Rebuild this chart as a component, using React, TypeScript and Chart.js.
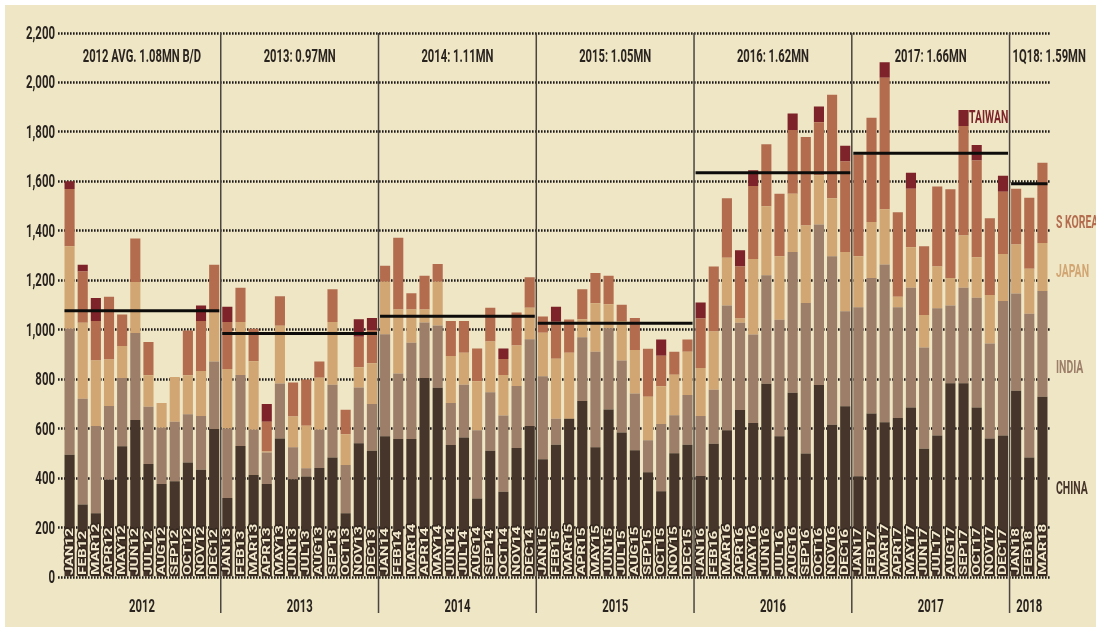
import React, { useEffect, useRef } from "react";
import { Chart, registerables } from "chart.js";

Chart.register(...registerables);

const MONTH_NAMES = ["JAN", "FEB", "MAR", "APR", "MAY", "JUN", "JUL", "AUG", "SEP", "OCT", "NOV", "DEC"];
const YEARS = ["2012", "2013", "2014", "2015", "2016", "2017", "2018"];
const MONTHS_PER_YEAR = [12, 12, 12, 12, 12, 12, 3];
const YEAR_NOTES = ["2012 AVG. 1.08MN B/D", "2013: 0.97MN", "2014: 1.11MN", "2015: 1.05MN", "2016: 1.62MN", "2017: 1.66MN", "1Q18: 1.59MN"];
const YEAR_AVERAGES = [1075, 983, 1052, 1024, 1633, 1712, 1588];
const Y_TICKS = [0, 200, 400, 600, 800, 1000, 1200, 1400, 1600, 1800, 2000, 2200];

const CATEGORIES: string[] = [];
YEARS.forEach((y, yi) => {
  for (let m = 0; m < MONTHS_PER_YEAR[yi]; m++) CATEGORIES.push(MONTH_NAMES[m] + y.slice(2));
});

const CHINA = [
  492, 291, 256, 391, 527, 633, 455, 374, 385, 461, 432, 597,
  317, 528, 410, 374, 558, 393, 404, 439, 481, 256, 539, 509,
  567, 556, 556, 803, 763, 532, 562, 315, 509, 343, 520, 609,
  474, 533, 638, 710, 523, 675, 582, 511, 422, 345, 498, 533,
  406, 537, 591, 673, 621, 779, 567, 743, 497, 774, 614, 689,
  405, 659, 624, 641, 683, 517, 570, 782, 782, 683, 558, 570,
  751, 481, 727,
];
const INDIA = [
  510, 428, 353, 299, 276, 352, 231, 228, 241, 195, 217, 272,
  282, 287, 183, 127, 223, 130, 34, 154, 294, 195, 225, 189,
  413, 265, 389, 224, 252, 170, 213, 276, 236, 308, 250, 350,
  336, 105, 0, 258, 386, 329, 292, 229, 129, 272, 154, 201,
  243, 218, 505, 353, 358, 439, 471, 569, 609, 650, 681, 384,
  684, 548, 638, 448, 485, 409, 515, 314, 386, 444, 384, 544,
  393, 582, 428,
];
const JAPAN = [
  334, 307, 265, 188, 129, 206, 128, 100, 181, 158, 182, 198,
  240, 214, 277, 5, 233, 124, 172, 211, 254, 124, 82, 164,
  212, 259, 135, 53, 177, 190, 130, 199, 205, 164, 164, 128,
  176, 243, 267, 72, 196, 97, 159, 176, 176, 152, 164, 175,
  194, 236, 193, 17, 305, 279, 257, 236, 313, 199, 235, 239,
  206, 227, 223, 42, 164, 132, 169, 111, 211, 164, 196, 190,
  199, 182, 194,
];
const S_KOREA = [
  231, 207, 159, 253, 128, 176, 134, 0, 0, 181, 202, 194,
  190, 139, 132, 120, 119, 138, 187, 65, 133, 99, 124, 135,
  65, 290, 65, 136, 72, 141, 128, 132, 137, 65, 134, 123,
  65, 149, 134, 122, 122, 115, 66, 129, 194, 124, 93, 49,
  200, 263, 241, 211, 295, 251, 253, 258, 358, 214, 418, 366,
  412, 421, 532, 342, 236, 278, 323, 359, 443, 391, 311, 252,
  225, 287, 324,
];
const TAIWAN = [
  31, 28, 93, 0, 0, 0, 0, 0, 0, 0, 63, 0,
  62, 0, 0, 72, 0, 0, 0, 0, 0, 0, 70, 48,
  0, 0, 0, 0, 0, 0, 0, 0, 0, 42, 0, 0,
  0, 61, 0, 0, 0, 0, 0, 0, 0, 65, 0, 0,
  65, 0, 0, 65, 64, 0, 0, 66, 0, 64, 0, 64,
  0, 0, 63, 0, 65, 0, 0, 0, 65, 63, 0, 65,
  0, 0, 0,
];

const COLORS = {
  china: "#46352a",
  india: "#9c7e69",
  japan: "#d2a673",
  korea: "#b46c4f",
  taiwan: "#7e2329",
  bg: "#efe6c5",
  text: "#2a2420",
};

const FAMILY = "Roboto, 'DejaVu Sans', sans-serif";

function condText(ctx: CanvasRenderingContext2D, text: string, x: number, y: number, size: number, sx: number, align: CanvasTextAlign, color: string, weight = "bold") {
  ctx.save();
  ctx.font = `${weight} ${size}px ${FAMILY}`;
  ctx.fillStyle = color;
  ctx.textAlign = align;
  ctx.textBaseline = "alphabetic";
  ctx.translate(x, y);
  ctx.scale(sx, 1);
  ctx.fillText(text, 0, 0);
  ctx.restore();
}

const decorPlugin = {
  id: "decor",
  beforeDraw(chart: any) {
    const ctx = chart.ctx as CanvasRenderingContext2D;
    ctx.save();
    ctx.fillStyle = "#ffffff";
    ctx.fillRect(0, 0, chart.width, chart.height);
    ctx.fillStyle = COLORS.bg;
    ctx.fillRect(5, 5, chart.width - 5, chart.height - 5);
    ctx.restore();
  },
  beforeDatasetsDraw(chart: any) {
    const ctx = chart.ctx as CanvasRenderingContext2D;
    const ys = chart.scales.y;
    ctx.save();
    ctx.strokeStyle = "#1c1a18";
    ctx.lineWidth = 2.4;
    ctx.setLineDash([1.6, 1.4]);
    Y_TICKS.forEach((v) => {
      const y = Math.round(ys.getPixelForValue(v)) + 0.5;
      ctx.beginPath();
      ctx.moveTo(58, y);
      ctx.lineTo(chart.chartArea.right + 2, y);
      ctx.stroke();
    });
    ctx.restore();
  },
  afterDatasetsDraw(chart: any) {
    const ctx = chart.ctx as CanvasRenderingContext2D;
    const xs = chart.scales.x;
    const ys = chart.scales.y;
    const meta = chart.getDatasetMeta(0);
    const barW = meta.data[0].width;

    ctx.save();
    ctx.font = `bold 19px ${FAMILY}`;
    const sxTop = 72 / ctx.measureText("2013: 0.97MN").width;
    ctx.font = `bold 18px ${FAMILY}`;
    const sxY = 29 / ctx.measureText("2,200").width;
    ctx.font = `bold 19px ${FAMILY}`;
    const sxYear = 26 / ctx.measureText("2012").width;
    ctx.font = `bold 18px ${FAMILY}`;
    const sxLeg = 33 / ctx.measureText("JAPAN").width;
    ctx.font = `bold 10.5px ${FAMILY}`;
    const sxMonth = 47 / ctx.measureText("JAN12").width;
    ctx.restore();

    let start = 0;
    const ranges: [number, number][] = [];
    MONTHS_PER_YEAR.forEach((n) => {
      ranges.push([start, start + n - 1]);
      start += n;
    });

    // separators
    ctx.save();
    ctx.strokeStyle = "#4a4541";
    ctx.lineWidth = 1.5;
    for (let i = 0; i < ranges.length - 1; i++) {
      const x = (xs.getPixelForValue(ranges[i][1]) + xs.getPixelForValue(ranges[i + 1][0])) / 2;
      ctx.beginPath();
      ctx.moveTo(x, 33);
      ctx.lineTo(x, 613);
      ctx.stroke();
    }
    ctx.restore();

    // average lines
    ctx.save();
    ctx.strokeStyle = "#0d0c0b";
    ctx.lineWidth = 3;
    ranges.forEach((r, i) => {
      const x0 = xs.getPixelForValue(r[0]) - barW / 2;
      const x1 = xs.getPixelForValue(r[1]) + barW / 2;
      const y = ys.getPixelForValue(YEAR_AVERAGES[i]);
      ctx.beginPath();
      ctx.moveTo(x0, y);
      ctx.lineTo(x1, y);
      ctx.stroke();
    });
    ctx.restore();

    // month labels
    CATEGORIES.forEach((lab, i) => {
      const cx = xs.getPixelForValue(i);
      ctx.save();
      ctx.translate(cx, 575);
      ctx.rotate(-Math.PI / 2);
      ctx.scale(sxMonth, 1);
      ctx.font = `bold 10.5px ${FAMILY}`;
      ctx.textAlign = "left";
      ctx.textBaseline = "middle";
      ctx.lineJoin = "round";
      ctx.strokeStyle = "#35281f";
      ctx.lineWidth = 2.5;
      ctx.strokeText(lab, 0, 0.5);
      ctx.fillStyle = "#f2e8cd";
      ctx.fillText(lab, 0, 0.5);
      ctx.restore();
    });

    // y tick labels
    Y_TICKS.forEach((v) => {
      const y = ys.getPixelForValue(v);
      condText(ctx, v.toLocaleString("en-US"), 55, y + 6.5, 18, sxY, "right", COLORS.text);
    });

    // year labels & notes
    ranges.forEach((r, i) => {
      const x0 = xs.getPixelForValue(r[0]) - xs.width / CATEGORIES.length / 2;
      const x1 = xs.getPixelForValue(r[1]) + xs.width / CATEGORIES.length / 2;
      const cx = (x0 + x1) / 2;
      condText(ctx, YEARS[i], cx, 612, 19, sxYear, "center", COLORS.text);
      if (i === ranges.length - 1) {
        condText(ctx, YEAR_NOTES[i], x0 + 3, 62, 19, sxTop, "left", COLORS.text);
      } else {
        condText(ctx, YEAR_NOTES[i], cx, 62, 19, sxTop, "center", COLORS.text);
      }
    });

    // series labels
    condText(ctx, "TAIWAN", 969, 123, 18, sxLeg, "left", COLORS.taiwan);
    condText(ctx, "S KOREA", 1056, 228, 18, sxLeg, "left", COLORS.korea);
    condText(ctx, "JAPAN", 1056, 277, 18, sxLeg, "left", COLORS.japan);
    condText(ctx, "INDIA", 1056, 373, 18, sxLeg, "left", COLORS.india);
    condText(ctx, "CHINA", 1056, 494, 18, sxLeg, "left", COLORS.china);
  },
};

export default function App() {
  const ref = useRef<HTMLCanvasElement | null>(null);
  useEffect(() => {
    document.body.style.margin = "0";
    if (!ref.current) return;
    const mk = (label: string, data: number[], color: string) => ({
      label,
      data,
      backgroundColor: color,
      borderWidth: 0,
      categoryPercentage: 1,
      barPercentage: 0.77,
    });
    const chart = new Chart(ref.current, {
      type: "bar",
      data: {
        labels: CATEGORIES,
        datasets: [
          mk("China", CHINA, COLORS.china),
          mk("India", INDIA, COLORS.india),
          mk("Japan", JAPAN, COLORS.japan),
          mk("S Korea", S_KOREA, COLORS.korea),
          mk("Taiwan", TAIWAN, COLORS.taiwan),
        ],
      },
      options: {
        responsive: false,
        animation: false,
        devicePixelRatio: 1,
        layout: { padding: { left: 63, right: 47, top: 32.5, bottom: 50.5 } },
        plugins: { legend: { display: false }, tooltip: { enabled: false } },
        scales: {
          x: { stacked: true, display: false },
          y: { stacked: true, display: false, min: 0, max: 2200 },
        },
      },
      plugins: [decorPlugin],
    });
    return () => chart.destroy();
  }, []);
  return (
    <div style={{ width: 1096, height: 627 }}>
      <canvas ref={ref} width={1096} height={627} style={{ display: "block" }} />
    </div>
  );
}
